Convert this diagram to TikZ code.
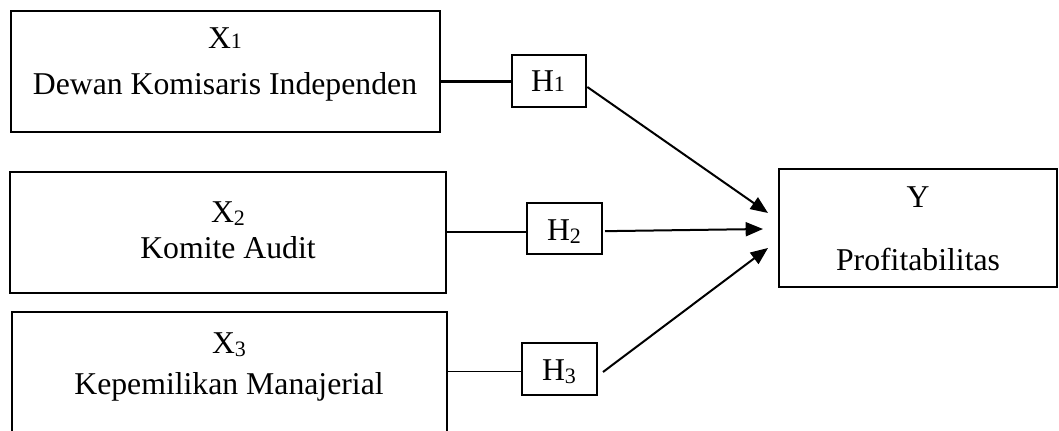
\documentclass[tikz,border=0pt]{standalone}
\usepackage{fontspec}
\setmainfont{Liberation Serif}
\usetikzlibrary{arrows.meta}
\newcommand{\lbl}{\fontsize{23.8}{28}\selectfont}
\newcommand{\mysubA}[1]{{\fontsize{16.5}{18}\selectfont #1}}
\newcommand{\mysubB}[1]{\raisebox{-2.25pt}{\fontsize{16.5}{18}\selectfont #1}}
\begin{document}
\begin{tikzpicture}[x=0.75pt,y=-0.75pt,
  box/.style={draw,rectangle,inner sep=0pt,outer sep=0pt},
  txt/.style={anchor=base,inner sep=0pt,outer sep=0pt,font=\lbl},
  link/.style={draw},
  arr/.style={-{Triangle[length=13pt,width=10.5pt]},line width=1.5pt}]
\useasboundingbox (0,0) rectangle (1059,431);
\clip (0,0) rectangle (1059,431);

% boxes
\node[box,line width=1.5pt,minimum width=321.75pt,minimum height=90.75pt] (X1) at (225.5,71.5) {};
\node[box,line width=2pt,minimum width=327pt,minimum height=90.75pt] (X2) at (228,232.5) {};
\node[box,line width=1.1pt,minimum width=326.25pt,minimum height=96pt] (X3) at (229.5,376) {};
\node[box,line width=1.1pt,minimum width=208.5pt,minimum height=88.5pt] (Y) at (918,228) {};
\node[box,line width=1.1pt,minimum width=55.5pt,minimum height=39pt] (H1) at (549,81) {};
\node[box,line width=1.5pt,minimum width=56.25pt,minimum height=38.25pt] (H2) at (564.5,228.5) {};
\node[box,line width=1.1pt,minimum width=56.25pt,minimum height=39pt] (H3) at (559.5,369) {};

% texts
\node[txt] (tx1) at (225,49) {X\mysubA{1}};
\node[txt] (tn1) at (225,95) {Dewan Komisaris Independen};
\node[txt] (tx2) at (228,222) {X\mysubB{2}};
\node[txt] (tn2) at (228,258) {Komite Audit};
\node[txt] (tx3) at (229,353) {X\mysubB{3}};
\node[txt] (tn3) at (229,394) {Kepemilikan Manajerial};
\node[txt] (ty) at (918,207) {Y};
\node[txt] (tny) at (918,270) {Profitabilitas};
\node[txt] (th1) at (548,92) {H\mysubA{1}};
\node[txt] (th2) at (564,240) {H\mysubB{2}};
\node[txt] (th3) at (559,380) {H\mysubB{3}};

% links
\draw[link,line width=2.25pt] ([yshift=-0.75pt]H1.west) -- ([yshift=-0.75pt]H1.west -| X1.east);
\draw[link,line width=1.5pt] ([yshift=-2.25pt]H2.west) -- ([yshift=-2.25pt]H2.west -| X2.east);
\draw[link,line width=1.1pt] ([yshift=-1.9pt]H3.west) -- ([yshift=-1.9pt]H3.west -| X3.east);

% arrow tips
\coordinate (t1) at (768,213);
\coordinate (t2) at (763,229);
\coordinate (t3) at (768,248);
\draw[arr] ([xshift=1pt,yshift=-4.5pt]H1.east) -- (t1);
\draw[arr] ([xshift=2.25pt,yshift=-2pt]H2.east) -- (t2);
\draw[arr] ([xshift=4.5pt,yshift=-2.25pt]H3.east) -- (t3);
\end{tikzpicture}
\end{document}
